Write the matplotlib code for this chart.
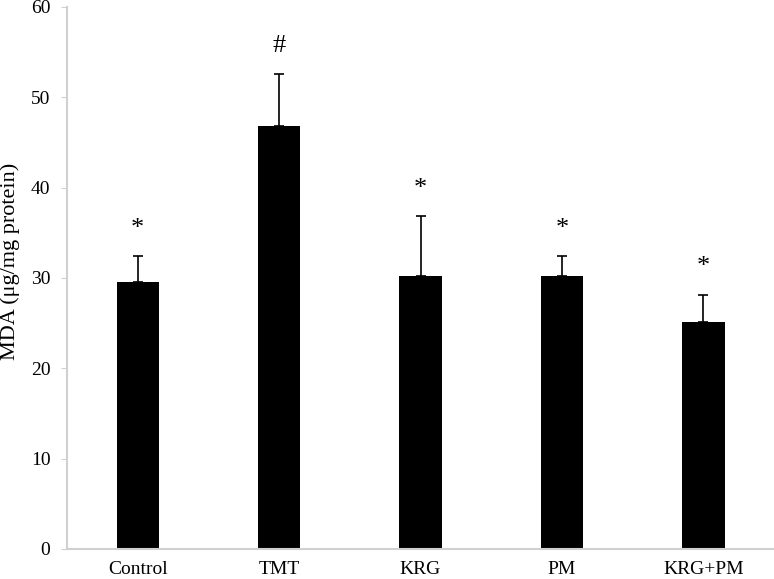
import matplotlib
matplotlib.use("Agg")
import matplotlib.pyplot as plt
import numpy as np

# 数据
groups = ["Control", "TMT", "KRG", "PM", "KRG+PM"]
mda = [29.5, 46.8, 30.2, 30.2, 25.1]
sd = [2.9, 5.8, 6.6, 2.2, 3.0]
marks = ["*", "#", "*", "*", "*"]

plt.rcParams["font.family"] = ["Liberation Serif", "DejaVu Serif"]

fig = plt.figure(figsize=(7.74, 5.79), dpi=100)
ax = fig.add_axes([0.0866, 0.052, 0.9134, 0.936])

x = np.arange(len(groups))
ax.bar(x, mda, width=0.3, color="black", zorder=2)
ax.errorbar(x, mda, yerr=[np.zeros(len(sd)), sd], fmt="none", ecolor="black",
            elinewidth=1.2, capsize=3.4, capthick=1.2, zorder=3)

for xi, m, s, t in zip(x, mda, sd, marks):
    ax.annotate(t, (xi, m + s), xytext=(0, 12), textcoords="offset points",
                ha="center", va="bottom", fontsize=19)

ax.set_xlim(-0.5, len(groups) - 0.5)
ax.set_ylim(0, 60)
ax.set_yticks(range(0, 61, 10))
ax.set_xticks(x)
ax.set_xticklabels(groups, fontsize=14)
ax.tick_params(axis="y", labelsize=14, length=4, color="#d0d0d0", pad=8)
ax.tick_params(axis="x", length=0, pad=9)
fig.text(10 / 774, 1 - 261 / 579, "MDA (μg/mg protein)", rotation=90,
         ha="center", va="center", fontsize=16)

for side in ["top", "right"]:
    ax.spines[side].set_visible(False)
for side in ["left", "bottom"]:
    ax.spines[side].set_color("#d0d0d0")
    ax.spines[side].set_linewidth(1.5)

plt.savefig("out.png", dpi=100)
